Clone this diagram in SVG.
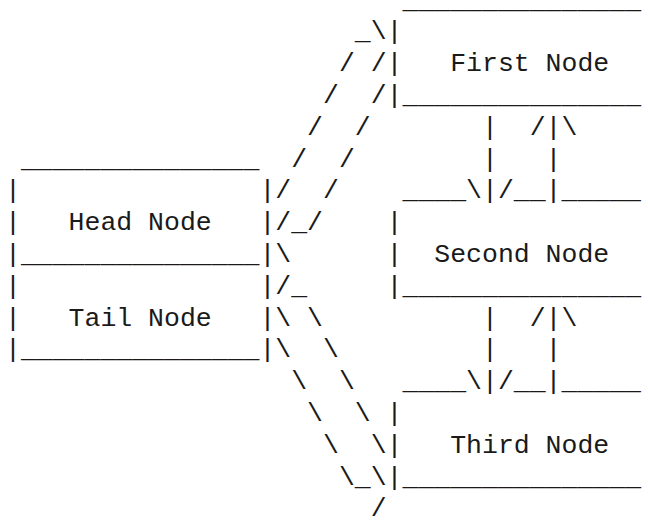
<svg xmlns="http://www.w3.org/2000/svg" width="648" height="520" viewBox="0 0 648 520" xml:space="preserve">
  <style>
    text { font-family: "Liberation Mono", "Courier New", "DejaVu Sans Mono", monospace; font-size: 26.5px; fill: #1a1a1a; white-space: pre; }
  </style>
  <rect width="648" height="520" fill="#ffffff"/>

  <!-- character grid: x = 5 + 15.9*col, baseline y = 7.6 + 31.8*row -->

  <g id="head-node">
    <text x="20.9" y="166.6">_______________</text>
    <text x="5" y="198.4">|               |</text>
    <text x="5" y="230.2">|   Head Node   |</text>
    <text x="5" y="262">|_______________|</text>
  </g>

  <g id="tail-node">
    <text x="5" y="293.8">|               |</text>
    <text x="5" y="325.6">|   Tail Node   |</text>
    <text x="5" y="357.4">|_______________|</text>
  </g>

  <g id="first-node">
    <text x="402.5" y="7.6">_______________</text>
    <text x="386.6" y="39.4">|</text>
    <text x="386.6" y="71.2">|   First Node</text>
    <text x="386.6" y="103">|_______________</text>
  </g>

  <g id="second-node">
    <text x="402.5" y="198.4">____</text>
    <text x="513.8" y="198.4">__</text>
    <text x="561.5" y="198.4">_____</text>
    <text x="386.6" y="230.2">|</text>
    <text x="386.6" y="262">|  Second Node</text>
    <text x="386.6" y="293.8">|_______________</text>
  </g>

  <g id="third-node">
    <text x="402.5" y="389.2">____</text>
    <text x="513.8" y="389.2">__</text>
    <text x="561.5" y="389.2">_____</text>
    <text x="386.6" y="421">|</text>
    <text x="386.6" y="452.8">|   Third Node</text>
    <text x="386.6" y="484.6">|_______________</text>
  </g>

  <g id="connectors">
    <!-- head node to first node -->
    <text x="354.8" y="39.4">_\</text>
    <text x="338.9" y="71.2">/ /</text>
    <text x="323" y="103">/  /</text>
    <text x="307.1" y="134.8">/  /</text>
    <text x="291.2" y="166.6">/  /</text>
    <text x="275.3" y="198.4">/  /</text>
    <text x="275.3" y="230.2">/_/</text>

    <!-- tail node to third node -->
    <text x="275.3" y="262">\</text>
    <text x="275.3" y="293.8">/_</text>
    <text x="275.3" y="325.6">\ \</text>
    <text x="275.3" y="357.4">\  \</text>
    <text x="291.2" y="389.2">\  \</text>
    <text x="307.1" y="421">\  \</text>
    <text x="323" y="452.8">\  \</text>
    <text x="338.9" y="484.6">\_\</text>
    <text x="370.7" y="516.4">/</text>

    <!-- first node and second node -->
    <text x="482" y="134.8">|</text>
    <text x="529.7" y="134.8">/|\</text>
    <text x="482" y="166.6">|</text>
    <text x="545.6" y="166.6">|</text>
    <text x="466.1" y="198.4">\|/</text>
    <text x="545.6" y="198.4">|</text>

    <!-- second node and third node -->
    <text x="482" y="325.6">|</text>
    <text x="529.7" y="325.6">/|\</text>
    <text x="482" y="357.4">|</text>
    <text x="545.6" y="357.4">|</text>
    <text x="466.1" y="389.2">\|/</text>
    <text x="545.6" y="389.2">|</text>
  </g>
</svg>
